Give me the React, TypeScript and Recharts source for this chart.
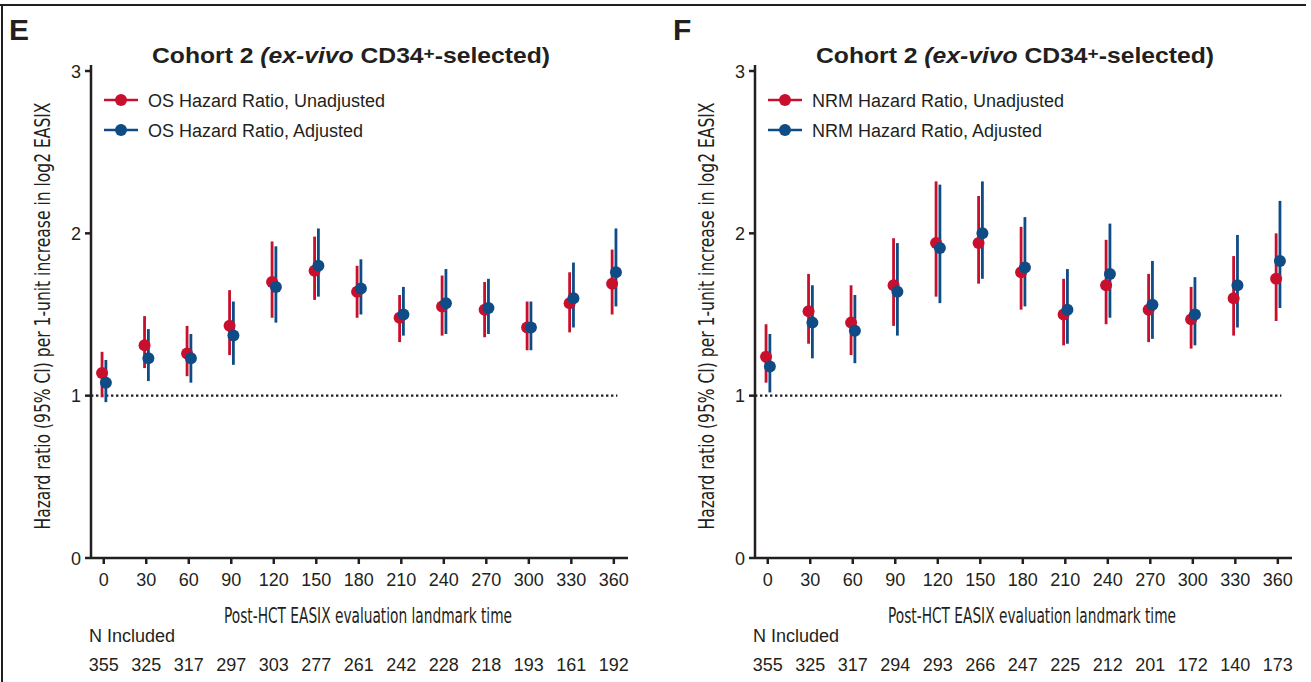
import React from 'react';
import { ComposedChart, Scatter, ErrorBar, XAxis, YAxis, ReferenceLine } from 'recharts';

const DAYS = [0, 30, 60, 90, 120, 150, 180, 210, 240, 270, 300, 330, 360];
const Y_TICKS = [0, 1, 2, 3];

const N_E = [355, 325, 317, 297, 303, 277, 261, 242, 228, 218, 193, 161, 192];
const N_F = [355, 325, 317, 294, 293, 266, 247, 225, 212, 201, 172, 140, 173];

const OS_UNADJ_HR = [1.14, 1.31, 1.26, 1.43, 1.70, 1.77, 1.64, 1.48, 1.55, 1.53, 1.42, 1.57, 1.69];
const OS_UNADJ_LO = [0.99, 1.17, 1.12, 1.25, 1.48, 1.59, 1.48, 1.33, 1.37, 1.36, 1.28, 1.39, 1.50];
const OS_UNADJ_HI = [1.27, 1.49, 1.43, 1.65, 1.95, 1.98, 1.80, 1.62, 1.74, 1.70, 1.58, 1.76, 1.90];

const OS_ADJ_HR = [1.08, 1.23, 1.23, 1.37, 1.67, 1.80, 1.66, 1.50, 1.57, 1.54, 1.42, 1.60, 1.76];
const OS_ADJ_LO = [0.96, 1.09, 1.08, 1.19, 1.45, 1.61, 1.50, 1.37, 1.38, 1.38, 1.28, 1.42, 1.55];
const OS_ADJ_HI = [1.22, 1.41, 1.38, 1.58, 1.92, 2.03, 1.84, 1.67, 1.78, 1.72, 1.58, 1.82, 2.03];

const NRM_UNADJ_HR = [1.24, 1.52, 1.45, 1.68, 1.94, 1.94, 1.76, 1.50, 1.68, 1.53, 1.47, 1.60, 1.72];
const NRM_UNADJ_LO = [1.08, 1.32, 1.25, 1.43, 1.61, 1.69, 1.53, 1.31, 1.44, 1.33, 1.29, 1.37, 1.46];
const NRM_UNADJ_HI = [1.44, 1.75, 1.68, 1.97, 2.32, 2.23, 2.04, 1.72, 1.96, 1.75, 1.67, 1.86, 2.00];

const NRM_ADJ_HR = [1.18, 1.45, 1.40, 1.64, 1.91, 2.00, 1.79, 1.53, 1.75, 1.56, 1.50, 1.68, 1.83];
const NRM_ADJ_LO = [1.02, 1.23, 1.20, 1.37, 1.57, 1.72, 1.55, 1.32, 1.48, 1.35, 1.31, 1.42, 1.54];
const NRM_ADJ_HI = [1.38, 1.68, 1.62, 1.94, 2.30, 2.32, 2.10, 1.78, 2.06, 1.83, 1.73, 1.99, 2.20];

const RED = '#c8102e';
const BLUE = '#0f4c85';
const INK = '#231f20';
const FONT = '"Liberation Sans", Arial, Helvetica, sans-serif';
const NARROW = '"Liberation Sans Narrow", "DejaVu Sans Condensed", "Liberation Sans", sans-serif';

const build = (hr: number[], lo: number[], hi: number[], shift: number) =>
  DAYS.map((d, i) => ({ x: d + shift, y: hr[i], err: [hr[i] - lo[i], hi[i] - hr[i]] }));

const dot = (color: string) => (p: any) => <circle cx={p.cx} cy={p.cy} r={6} fill={color} />;

type PanelProps = {
  letter: string;
  prefix: string;
  unadj: { hr: number[]; lo: number[]; hi: number[] };
  adj: { hr: number[]; lo: number[]; hi: number[] };
  n: number[];
  width: number;
  left: number;
};

const Panel = ({ letter, prefix, unadj, adj, n, width, left }: PanelProps) => {
  const unadjData = build(unadj.hr, unadj.lo, unadj.hi, -1.2);
  const adjData = build(adj.hr, adj.lo, adj.hi, 1.5);
  const XTick = (props: any) => {
    const { x, y, payload } = props;
    const i = DAYS.indexOf(payload.value);
    return (
      <g>
        <text x={x} y={y} dy={20} textAnchor="middle" fontSize={18} fill={INK} fontFamily={FONT}>
          {payload.value}
        </text>
        <text x={x} y={y} dy={105} textAnchor="middle" fontSize={18} fill={INK} fontFamily={FONT}>
          {n[i]}
        </text>
      </g>
    );
  };
  const YTick = (props: any) => {
    const { x, y, payload } = props;
    return (
      <text x={x} y={y} dx={-2} dy={6.5} textAnchor="end" fontSize={18} fill={INK} fontFamily={FONT}>
        {payload.value}
      </text>
    );
  };
  return (
    <div style={{ position: 'absolute', left, top: 0, width, height: 682 }}>
      <ComposedChart
        width={width}
        height={682}
        margin={{ top: 65, right: width - 628, bottom: 0, left: 0 }}
      >
        <XAxis
          type="number"
          dataKey="x"
          domain={[-9, 370]}
          ticks={DAYS}
          allowDataOverflow
          interval={0}
          height={124}
          stroke={INK}
          strokeWidth={2.5}
          tickSize={6}
          tick={<XTick />}
        />
        <YAxis
          type="number"
          dataKey="y"
          domain={[0, 3.037]}
          ticks={Y_TICKS}
          allowDataOverflow
          width={91}
          stroke={INK}
          strokeWidth={2.5}
          tickSize={6}
          tick={<YTick />}
        />
        <ReferenceLine
          segment={[{ x: -9, y: 1 }, { x: 362.5, y: 1 }]}
          stroke={INK}
          strokeWidth={2.4}
          strokeDasharray="2.4 2.6"
          ifOverflow="visible"
        />
        <Scatter data={unadjData} fill={RED} shape={dot(RED)} isAnimationActive={false}>
          <ErrorBar dataKey="err" direction="y" width={0} stroke={RED} strokeWidth={2.8} isAnimationActive={false} />
        </Scatter>
        <Scatter data={adjData} fill={BLUE} shape={dot(BLUE)} isAnimationActive={false}>
          <ErrorBar dataKey="err" direction="y" width={0} stroke={BLUE} strokeWidth={2.8} isAnimationActive={false} />
        </Scatter>
      </ComposedChart>
      <svg
        width={width}
        height={682}
        style={{ position: 'absolute', left: 0, top: 0, pointerEvents: 'none' }}
      >
        <text x={9} y={40} fontSize={30} fontWeight="bold" fill={INK} fontFamily={FONT}>
          {letter}
        </text>
        <text
          x={351}
          y={63}
          textAnchor="middle"
          fontSize={22}
          fontWeight="bold"
          fill={INK}
          fontFamily={FONT}
          textLength={398}
          lengthAdjust="spacingAndGlyphs"
        >
          Cohort 2 <tspan fontStyle="italic">(ex-vivo</tspan> CD34
          <tspan fontSize={17} dy={-4}>+</tspan>
          <tspan dy={4}>-selected)</tspan>
        </text>
        <line x1={104} x2={138} y1={100} y2={100} stroke={RED} strokeWidth={2.4} />
        <circle cx={121} cy={100} r={6} fill={RED} />
        <text x={148} y={106.5} fontSize={18} fill={INK} fontFamily={FONT}>
          {prefix} Hazard Ratio, Unadjusted
        </text>
        <line x1={104} x2={138} y1={130} y2={130} stroke={BLUE} strokeWidth={2.4} />
        <circle cx={121} cy={130} r={6} fill={BLUE} />
        <text x={148} y={136.5} fontSize={18} fill={INK} fontFamily={FONT}>
          {prefix} Hazard Ratio, Adjusted
        </text>
        <text
          x={0}
          y={0}
          transform="translate(50 316) rotate(-90)"
          textAnchor="middle"
          fontSize={21}
          fill={INK}
          fontFamily={NARROW}
          textLength={427}
          lengthAdjust="spacingAndGlyphs"
        >
          Hazard ratio (95% CI) per 1-unit increase in log2 EASIX
        </text>
        <text
          x={368}
          y={623}
          textAnchor="middle"
          fontSize={21}
          fill={INK}
          fontFamily={NARROW}
          textLength={288}
          lengthAdjust="spacingAndGlyphs"
        >
          Post-HCT EASIX evaluation landmark time
        </text>
        <text x={89} y={642} fontSize={18} fill={INK} fontFamily={FONT}>
          N Included
        </text>
      </svg>
    </div>
  );
};

export default function App() {
  return (
    <div
      style={{
        position: 'absolute',
        left: 0,
        top: 0,
        width: 1311,
        height: 682,
        background: '#fff',
        overflow: 'hidden',
      }}
    >
      <div style={{ position: 'absolute', left: 0, top: 4, width: 1306, height: 2, background: INK }} />
      <div style={{ position: 'absolute', left: 1, top: 4, width: 2, height: 678, background: INK }} />
      <Panel
        letter="E"
        prefix="OS"
        unadj={{ hr: OS_UNADJ_HR, lo: OS_UNADJ_LO, hi: OS_UNADJ_HI }}
        adj={{ hr: OS_ADJ_HR, lo: OS_ADJ_LO, hi: OS_ADJ_HI }}
        n={N_E}
        width={664}
        left={0}
      />
      <Panel
        letter="F"
        prefix="NRM"
        unadj={{ hr: NRM_UNADJ_HR, lo: NRM_UNADJ_LO, hi: NRM_UNADJ_HI }}
        adj={{ hr: NRM_ADJ_HR, lo: NRM_ADJ_LO, hi: NRM_ADJ_HI }}
        n={N_F}
        width={647}
        left={664}
      />
    </div>
  );
}
